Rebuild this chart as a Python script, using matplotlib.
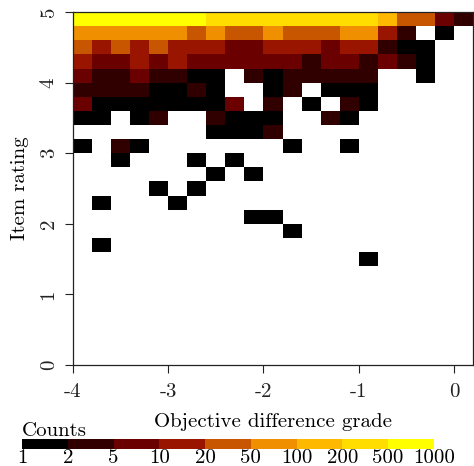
import numpy as np
import matplotlib
matplotlib.use('Agg')
import matplotlib.pyplot as plt
from matplotlib.colors import ListedColormap, BoundaryNorm
from matplotlib.colorbar import ColorbarBase

plt.rcParams['font.family'] = ['cmr10', 'DejaVu Serif']
plt.rcParams['axes.unicode_minus'] = False
plt.rcParams['mathtext.fontset'] = 'cm'

# bins: objective difference grade (x) and item rating (y), width 0.2
x_edges = np.round(np.arange(-4.0, 0.21, 0.2), 2)
y_edges = np.round(np.arange(0.0, 5.01, 0.2), 2)

# counts per cell, rows listed from the top (rating 4.8-5.0) downwards
counts_top = [
    [700, 700, 700, 700, 700, 700, 700, 300, 300, 300, 300, 300, 300, 300, 300, 300, 150, 30, 30, 7, 3],
    [70, 70, 70, 70, 70, 70, 30, 70, 30, 30, 70, 30, 30, 30, 70, 70, 14, 3, 0, 1, 0],
    [30, 14, 30, 14, 30, 14, 14, 14, 7, 7, 14, 14, 14, 7, 14, 14, 3, 1, 1, 0, 0],
    [14, 7, 7, 14, 7, 14, 7, 7, 7, 7, 7, 7, 3, 7, 7, 3, 7, 3, 1, 0, 0],
    [7, 3, 3, 7, 3, 3, 1, 1, 0, 3, 1, 3, 3, 3, 3, 3, 0, 0, 1, 0, 0],
    [3, 3, 3, 3, 1, 1, 3, 1, 0, 0, 1, 3, 0, 1, 1, 1, 0, 0, 0, 0, 0],
    [7, 1, 1, 1, 1, 1, 1, 1, 7, 0, 3, 0, 1, 0, 3, 1, 0, 0, 0, 0, 0],
    [1, 1, 0, 1, 3, 0, 0, 3, 1, 1, 1, 0, 0, 3, 1, 0, 0, 0, 0, 0, 0],
    [0, 0, 0, 0, 0, 0, 0, 1, 1, 1, 3, 0, 0, 0, 0, 0, 0, 0, 0, 0, 0],
    [1, 0, 3, 1, 0, 0, 0, 0, 0, 0, 0, 1, 0, 0, 1, 0, 0, 0, 0, 0, 0],
    [0, 0, 1, 0, 0, 0, 1, 0, 1, 0, 0, 0, 0, 0, 0, 0, 0, 0, 0, 0, 0],
    [0, 0, 0, 0, 0, 0, 0, 1, 0, 1, 0, 0, 0, 0, 0, 0, 0, 0, 0, 0, 0],
    [0, 0, 0, 0, 1, 0, 1, 0, 0, 0, 0, 0, 0, 0, 0, 0, 0, 0, 0, 0, 0],
    [0, 1, 0, 0, 0, 1, 0, 0, 0, 0, 0, 0, 0, 0, 0, 0, 0, 0, 0, 0, 0],
    [0, 0, 0, 0, 0, 0, 0, 0, 0, 1, 1, 0, 0, 0, 0, 0, 0, 0, 0, 0, 0],
    [0, 0, 0, 0, 0, 0, 0, 0, 0, 0, 0, 1, 0, 0, 0, 0, 0, 0, 0, 0, 0],
    [0, 1, 0, 0, 0, 0, 0, 0, 0, 0, 0, 0, 0, 0, 0, 0, 0, 0, 0, 0, 0],
    [0, 0, 0, 0, 0, 0, 0, 0, 0, 0, 0, 0, 0, 0, 0, 1, 0, 0, 0, 0, 0],
]

count_bounds = [1, 2, 5, 10, 20, 50, 100, 200, 500, 1000]
level_colors = ['#000000', '#300000', '#6b0000', '#9a1500', '#c85500',
                '#f09000', '#ffb800', '#ffdd00', '#ffff00']
x_ticks = [-4, -3, -2, -1, 0]
y_ticks = [0, 1, 2, 3, 4, 5]

# pad empty rows at the bottom and flip so row 0 is the lowest rating
n_rows = len(y_edges) - 1
grid = np.zeros((n_rows, len(x_edges) - 1))
grid[n_rows - len(counts_top):] = np.array(counts_top)[::-1]
grid = np.ma.masked_where(grid == 0, grid)

cmap = ListedColormap(level_colors)
norm = BoundaryNorm(count_bounds, cmap.N)

fs = 15
fig = plt.figure(figsize=(4.74, 4.66), dpi=100)
ax = fig.add_axes([0.154, 0.2167, 0.844, 0.7575])
ax.pcolormesh(x_edges, y_edges, grid, cmap=cmap, norm=norm)
ax.set_xlim(x_edges[0], x_edges[-1])
ax.set_ylim(y_edges[0], y_edges[-1])

ax.set_xticks(x_ticks)
ax.set_xticklabels([str(t) for t in x_ticks])
ax.set_yticks(y_ticks)
ax.set_yticklabels([str(t) for t in y_ticks], rotation=90, va='center')
ax.tick_params(direction='out', length=6, width=0.8, labelsize=fs, colors='#222222')
ax.tick_params(axis='x', pad=7)
ax.tick_params(axis='y', pad=5)
for s in ax.spines.values():
    s.set_linewidth(0.9)
    s.set_color('#222222')

ax.set_xlabel('Objective difference grade', fontsize=fs, labelpad=9)
ax.set_ylabel('Item rating', fontsize=fs, labelpad=8)

# discrete colorbar underneath
cax = fig.add_axes([0.0464, 0.0365, 0.869, 0.0215])
cb = ColorbarBase(cax, cmap=cmap, norm=norm, boundaries=count_bounds,
                  spacing='uniform', orientation='horizontal', ticks=count_bounds)
cb.outline.set_visible(False)
cb.ax.tick_params(length=0, labelsize=fs, pad=0)
cb.ax.set_xticklabels([str(b) for b in count_bounds])
fig.text(0.0464, 0.064, 'Counts', fontsize=fs, ha='left', va='baseline')

fig.savefig('out.png', dpi=100)
